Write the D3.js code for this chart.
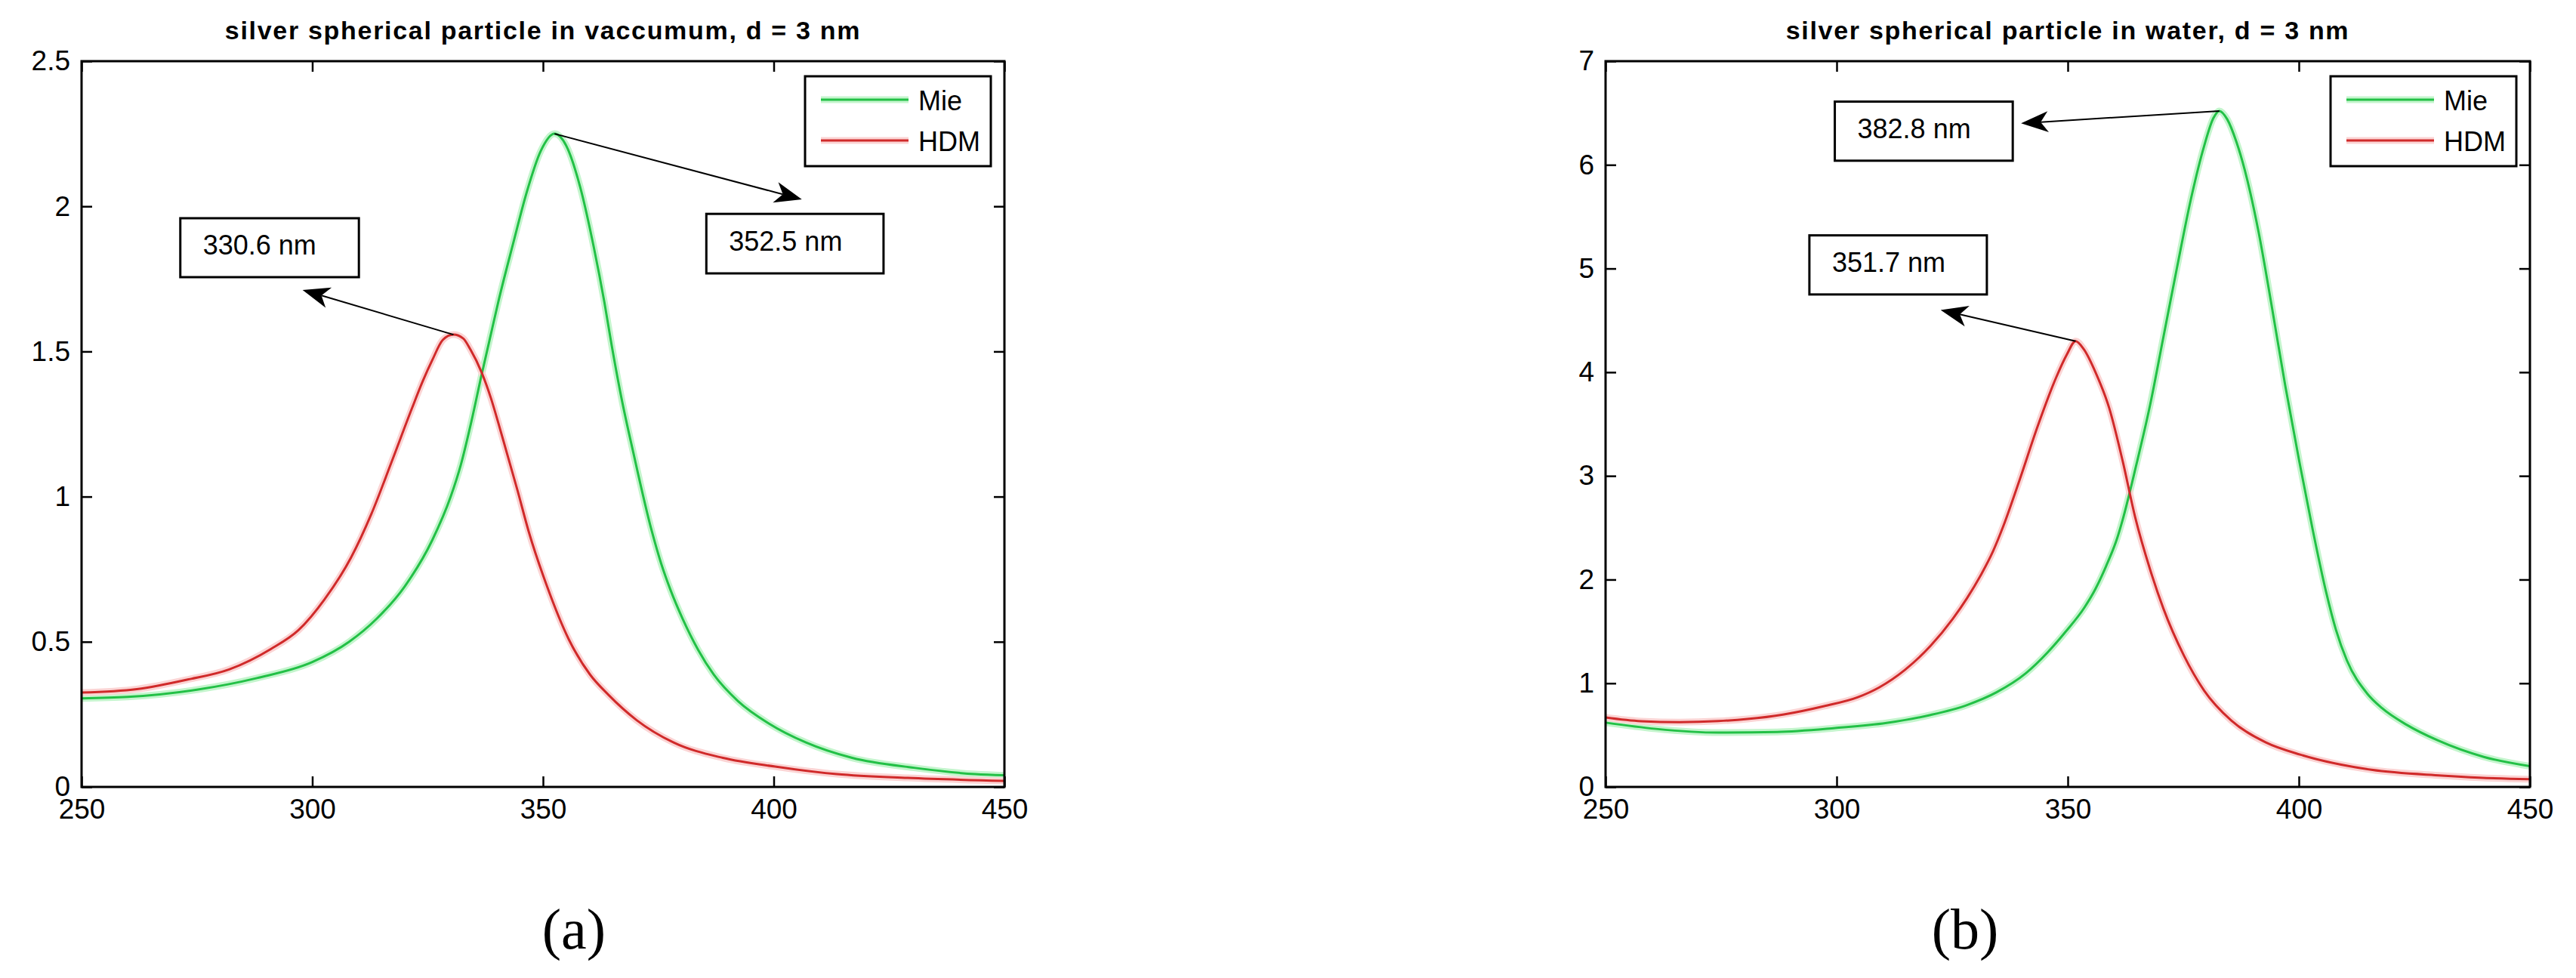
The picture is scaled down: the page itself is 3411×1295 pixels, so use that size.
<!DOCTYPE html>
<html>
<head>
<meta charset="utf-8">
<script src="https://cdn.jsdelivr.net/npm/d3@7"></script>
<style>
  body { margin: 0; background: #fff; }
  text { font-family: "Liberation Sans", Arial, sans-serif; fill: #000; }
  .tick line { stroke: #000; stroke-width: 2.5; }
  .tick text { font-size: 37px; }
  .title { font-size: 34px; font-weight: bold; letter-spacing: 1.7px; }
  .caption { font-family: "Liberation Serif", "DejaVu Serif", serif; font-size: 76px; }
  .note { font-size: 36px; }
</style>
</head>
<body>
<div id="chart"></div>
<script>
// wavelength (nm) and extinction values
var xTicks = [250, 300, 350, 400, 450];
var vacYTicks = [0, 0.5, 1, 1.5, 2, 2.5];
var watYTicks = [0, 1, 2, 3, 4, 5, 6, 7];
var seriesNames = ["Mie", "HDM"];

var vacMieX = [250, 260, 275, 288, 300, 308, 314, 320, 326, 330, 332.2, 334.5, 336.7, 338.5, 340.3, 343.5, 346.5, 349.5, 352.5, 355, 358, 361, 363.3, 364.9, 367, 369.6, 373.6, 375.6, 377.6, 380.3, 383.6, 387, 392.3, 399, 407, 417, 430.4, 443.7, 450];
var vacMieY = [0.305, 0.31, 0.335, 0.375, 0.43, 0.5, 0.58, 0.69, 0.85, 1.0, 1.11, 1.26, 1.42, 1.545, 1.67, 1.87, 2.05, 2.19, 2.25, 2.21, 2.07, 1.86, 1.67, 1.52, 1.34, 1.15, 0.88, 0.77, 0.68, 0.578, 0.473, 0.387, 0.295, 0.218, 0.153, 0.1, 0.066, 0.044, 0.04];

var vacHdmX = [250, 262, 273, 282, 291, 297, 302.6, 308.4, 312.8, 317.2, 321.5, 324, 326, 328.3, 330.6, 332.7, 334.3, 336.7, 338.7, 340.3, 342, 344.5, 346.9, 350.9, 355.6, 360.2, 364.2, 370.3, 378.3, 389, 400.3, 413.7, 429, 450];
var vacHdmY = [0.325, 0.337, 0.37, 0.405, 0.475, 0.54, 0.645, 0.79, 0.94, 1.12, 1.3, 1.4, 1.47, 1.54, 1.558, 1.545, 1.506, 1.428, 1.34, 1.255, 1.16, 1.02, 0.88, 0.69, 0.508, 0.387, 0.317, 0.23, 0.153, 0.1, 0.07, 0.044, 0.031, 0.021];

var watMieX = [250, 260.9, 274.4, 287.1, 299.7, 310.8, 320.3, 328.2, 334.6, 340.9, 345.7, 349.6, 353.6, 356, 358.3, 360.7, 361.9, 364.8, 367.8, 370.7, 373.6, 376.6, 379.5, 381.5, 382.8, 384.5, 386.5, 388.3, 391.3, 394.2, 397.1, 400.1, 403, 405.9, 408, 410.4, 414.8, 418, 423.3, 430, 440, 450];
var watMieY = [0.62, 0.56, 0.524, 0.53, 0.568, 0.617, 0.694, 0.79, 0.913, 1.095, 1.3, 1.5, 1.73, 1.91, 2.13, 2.4, 2.58, 3.1, 3.68, 4.34, 5.0, 5.66, 6.18, 6.45, 6.52, 6.44, 6.22, 5.95, 5.35, 4.62, 3.86, 3.14, 2.48, 1.88, 1.52, 1.22, 0.9, 0.76, 0.6, 0.45, 0.29, 0.2];

var watHdmX = [250, 257.7, 266, 274.4, 280.7, 288.6, 297.3, 304.5, 309.2, 314.8, 320.3, 325.1, 328.2, 331.4, 333.8, 336.1, 339.5, 343.5, 347.5, 349.8, 351.7, 353.5, 356, 359, 361.9, 364.6, 367.8, 370.7, 375.1, 379.5, 385.4, 392.8, 400.4, 415.7, 430.9, 439, 450];
var watHdmY = [0.67, 0.634, 0.625, 0.635, 0.655, 0.7, 0.78, 0.864, 0.96, 1.13, 1.36, 1.62, 1.82, 2.06, 2.27, 2.52, 2.95, 3.48, 3.95, 4.17, 4.3, 4.22, 4.0, 3.65, 3.14, 2.6, 2.1, 1.72, 1.27, 0.93, 0.64, 0.43, 0.31, 0.165, 0.11, 0.09, 0.075];

// peak labels: text, peak point, arrow tip, label box (x from, x to, y top, y bottom) in data units
var vacNotes = ["352.5 nm", "330.6 nm"];
var vacPeaks = [[352.5, 2.25], [330.6, 1.558]];
var vacTips = [[406.1, 2.024], [297.9, 1.712]];
var vacBoxes = [[385.4, 423.8, 1.974, 1.769], [271.4, 310.1, 1.959, 1.756]];

var watNotes = ["382.8 nm", "351.7 nm"];
var watPeaks = [[382.8, 6.52], [351.7, 4.3]];
var watTips = [[339.9, 6.4], [322.5, 4.6]];
var watBoxes = [[299.6, 338.1, 6.61, 6.04], [294.1, 332.5, 5.32, 4.75]];

var colors = {Mie: "#22c046", HDM: "#d02a2a"};
var halos = {Mie: "#c4f5cd", HDM: "#fbd4d4"};

var svg = d3.select("#chart").append("svg")
    .attr("width", 3411).attr("height", 1295);

function zip(xs, ys) { return xs.map(function(x, i) { return [x, ys[i]]; }); }

function drawPanel(opt) {
  var x = d3.scaleLinear().domain([250, 450]).range([opt.left, opt.right]);
  var y = d3.scaleLinear().domain(opt.yDomain).range([opt.bottom, opt.top]);
  var g = svg.append("g");
  var tk = 14;

  g.append("g").attr("transform", "translate(0," + opt.bottom + ")")
    .call(d3.axisBottom(x).tickValues(xTicks).tickSizeInner(-tk).tickSizeOuter(0).tickPadding(16));
  g.append("g").attr("transform", "translate(" + opt.left + ",0)")
    .call(d3.axisLeft(y).tickValues(opt.yTicks).tickFormat(d3.format("~g")).tickSizeInner(-tk).tickSizeOuter(0).tickPadding(15));
  g.append("g").attr("transform", "translate(0," + opt.top + ")")
    .call(d3.axisTop(x).tickValues(xTicks).tickFormat("").tickSizeInner(-tk).tickSizeOuter(0));
  g.append("g").attr("transform", "translate(" + opt.right + ",0)")
    .call(d3.axisRight(y).tickValues(opt.yTicks).tickFormat("").tickSizeInner(-tk).tickSizeOuter(0));
  g.selectAll(".domain").remove();

  var line = d3.line().x(function(d) { return x(d[0]); }).y(function(d) { return y(d[1]); })
      .curve(d3.curveMonotoneX);

  opt.series.forEach(function(s) {
    g.append("path").datum(s.data).attr("d", line)
      .attr("fill", "none").attr("stroke", halos[s.name]).attr("stroke-width", 9);
  });
  opt.series.forEach(function(s) {
    g.append("path").datum(s.data).attr("d", line)
      .attr("fill", "none").attr("stroke", colors[s.name]).attr("stroke-width", 3);
  });

  // frame
  g.append("rect").attr("x", opt.left).attr("y", opt.top)
    .attr("width", opt.right - opt.left).attr("height", opt.bottom - opt.top)
    .attr("fill", "none").attr("stroke", "#000").attr("stroke-width", 3);

  // title
  g.append("text").attr("class", "title")
    .attr("x", (opt.left + opt.right) / 2).attr("y", opt.top - 29)
    .attr("text-anchor", "middle").text(opt.title);

  // arrows + boxed labels
  opt.notes.forEach(function(txt, i) {
    var p0 = [x(opt.peaks[i][0]), y(opt.peaks[i][1])];
    var p1 = [x(opt.tips[i][0]), y(opt.tips[i][1])];
    var ang = Math.atan2(p1[1] - p0[1], p1[0] - p0[0]);
    var hl = 36, hw = 14, nb = 10;
    function pt(a, b) {
      return [p1[0] - a * Math.cos(ang) - b * Math.sin(ang), p1[1] - a * Math.sin(ang) + b * Math.cos(ang)];
    }
    g.append("line").attr("x1", p0[0]).attr("y1", p0[1])
      .attr("x2", pt(hl - nb, 0)[0]).attr("y2", pt(hl - nb, 0)[1])
      .attr("stroke", "#000").attr("stroke-width", 2);
    g.append("path")
      .attr("d", "M" + [p1, pt(hl, hw), pt(hl - nb, 0), pt(hl, -hw)].join("L") + "Z")
      .attr("fill", "#000");

    var b = opt.boxes[i];
    g.append("rect").attr("x", x(b[0])).attr("y", y(b[2]))
      .attr("width", x(b[1]) - x(b[0])).attr("height", y(b[3]) - y(b[2]))
      .attr("fill", "#fff").attr("stroke", "#000").attr("stroke-width", 3);
    g.append("text").attr("class", "note")
      .attr("x", x(b[0]) + 30).attr("y", (y(b[2]) + y(b[3])) / 2 + 9)
      .text(txt);
  });

  // legend
  var lw = 246, lh = 119;
  var lx = opt.right - 18 - lw, ly = opt.top + 20;
  var lg = g.append("g").attr("transform", "translate(" + lx + "," + ly + ")");
  lg.append("rect").attr("width", lw).attr("height", lh)
    .attr("fill", "#fff").attr("stroke", "#000").attr("stroke-width", 3);
  seriesNames.forEach(function(name, i) {
    var yy = 31 + i * 54;
    lg.append("line").attr("x1", 21).attr("x2", 137).attr("y1", yy).attr("y2", yy)
      .attr("stroke", halos[name]).attr("stroke-width", 9);
    lg.append("line").attr("x1", 21).attr("x2", 137).attr("y1", yy).attr("y2", yy)
      .attr("stroke", colors[name]).attr("stroke-width", 3);
    lg.append("text").attr("class", "note").attr("x", 150).attr("y", yy + 14).text(name);
  });

  svg.append("text").attr("class", "caption")
    .attr("x", opt.captionX).attr("y", 1256).attr("text-anchor", "middle").text(opt.caption);
}

drawPanel({
  left: 108, right: 1330, top: 81, bottom: 1042,
  yDomain: [0, 2.5], yTicks: vacYTicks,
  title: "silver spherical particle in vaccumum, d = 3 nm",
  series: [{name: "Mie", data: zip(vacMieX, vacMieY)}, {name: "HDM", data: zip(vacHdmX, vacHdmY)}],
  notes: vacNotes, peaks: vacPeaks, tips: vacTips, boxes: vacBoxes,
  caption: "(a)", captionX: 760
});

drawPanel({
  left: 2126, right: 3350, top: 81, bottom: 1042,
  yDomain: [0, 7], yTicks: watYTicks,
  title: "silver spherical particle in water, d = 3 nm",
  series: [{name: "Mie", data: zip(watMieX, watMieY)}, {name: "HDM", data: zip(watHdmX, watHdmY)}],
  notes: watNotes, peaks: watPeaks, tips: watTips, boxes: watBoxes,
  caption: "(b)", captionX: 2602
});
</script>
</body>
</html>
